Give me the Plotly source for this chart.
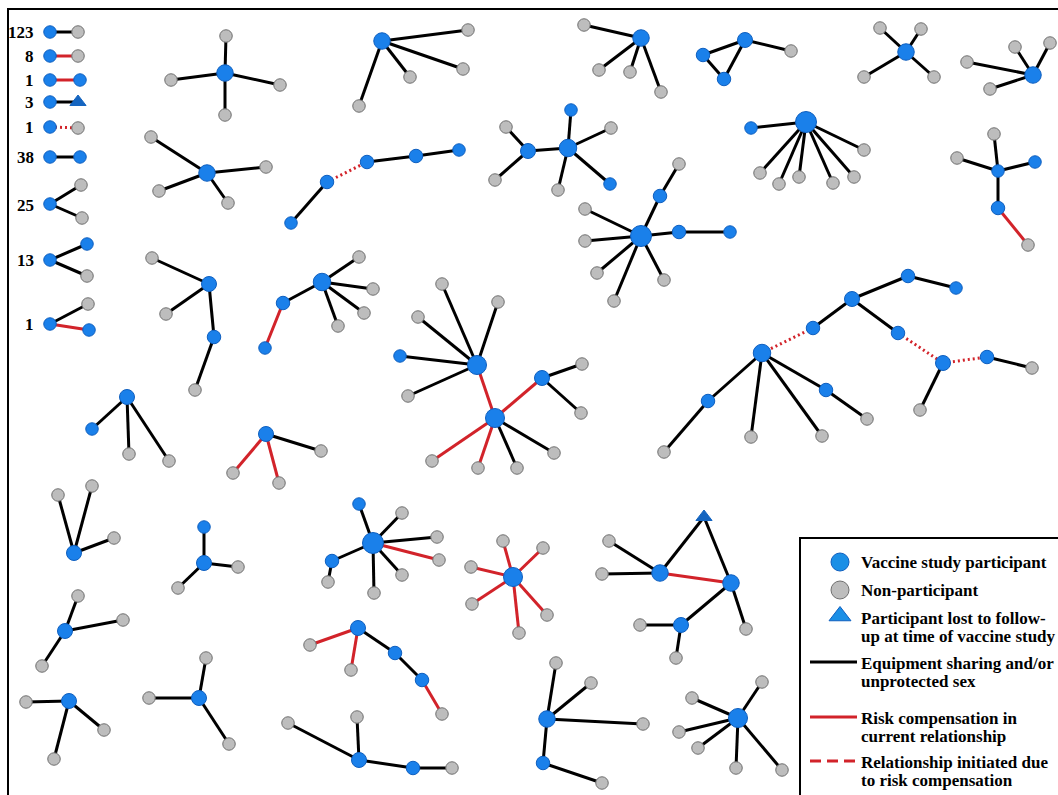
import plotly.graph_objects as go

# ---------------- data ----------------
# left-hand key: counts of small dyads/triads
motif_counts = [123, 8, 1, 3, 1, 38, 25, 13, 1]
motif_label_y = [32, 56, 80, 102, 127, 157, 205, 260, 324]

# node table: name, x, y, kind (P = vaccine study participant, N = non-participant, L = lost to follow-up)
key_nodes = [
    ("k1a", 50, 32, "P"), ("k1b", 78, 32, "N"),
    ("k2a", 50, 56, "P"), ("k2b", 78, 56, "N"),
    ("k3a", 50, 80, "P"), ("k3b", 80, 80, "P"),
    ("k4a", 50, 102, "P"), ("k4b", 78, 102, "L"),
    ("k5a", 50, 127, "P"), ("k5b", 78, 128, "N"),
    ("k6a", 50, 157, "P"), ("k6b", 80, 157, "P"),
    ("k7a", 50, 204, "P"), ("k7b", 81, 185, "N"), ("k7c", 82, 218, "N"),
    ("k8a", 50, 260, "P"), ("k8b", 87, 244, "P"), ("k8c", 87, 276, "N"),
    ("k9a", 50, 324, "P"), ("k9b", 88, 304, "N"), ("k9c", 89, 330, "P"),
]
key_edges = [
    ("k1a", "k1b", "k"), ("k2a", "k2b", "r"), ("k3a", "k3b", "r"), ("k4a", "k4b", "k"),
    ("k5a", "k5b", "d"), ("k6a", "k6b", "k"), ("k7a", "k7b", "k"), ("k7a", "k7c", "k"),
    ("k8a", "k8b", "k"), ("k8a", "k8c", "k"), ("k9a", "k9b", "k"), ("k9a", "k9c", "r"),
]

network_nodes = [
    # A
    ("a0", 225, 73, "P"), ("a1", 226, 36, "N"), ("a2", 171, 80, "N"), ("a3", 280, 85, "N"), ("a4", 225, 115, "N"),
    # B
    ("b0", 382, 41, "P"), ("b1", 468, 30, "N"), ("b2", 463, 69, "N"), ("b3", 410, 77, "N"), ("b4", 359, 106, "N"),
    # C
    ("c0", 207, 173, "P"), ("c1", 151, 137, "N"), ("c2", 266, 167, "N"), ("c3", 159, 191, "N"), ("c4", 228, 203, "N"),
    # D
    ("d0", 291, 223, "P"), ("d1", 327, 182, "P"), ("d2", 367, 162, "P"), ("d3", 416, 156, "P"), ("d4", 459, 150, "P"),
    # E
    ("e0", 641, 38, "P"), ("e1", 584, 25, "N"), ("e2", 599, 70, "N"), ("e3", 630, 72, "N"), ("e4", 661, 92, "N"),
    # F
    ("f0", 745, 40, "P"), ("f1", 703, 55, "P"), ("f2", 724, 79, "P"), ("f3", 791, 51, "N"),
    # G
    ("g0", 906, 52, "P"), ("g1", 880, 28, "N"), ("g2", 921, 29, "N"), ("g3", 864, 77, "N"), ("g4", 934, 77, "N"),
    # H
    ("h0", 1033, 75, "P"), ("h1", 1015, 47, "N"), ("h2", 1050, 43, "N"), ("h3", 967, 62, "N"), ("h4", 990, 89, "N"),
    # I
    ("i0", 568, 148, "P"), ("i1", 571, 110, "P"), ("i2", 611, 128, "N"), ("i3", 610, 184, "P"),
    ("i4", 558, 190, "N"), ("i5", 528, 151, "P"), ("i6", 506, 127, "N"), ("i7", 495, 180, "N"),
    # J
    ("j0", 806, 122, "P"), ("j1", 751, 128, "P"), ("j2", 760, 173, "N"), ("j3", 779, 184, "N"),
    ("j4", 799, 177, "N"), ("j5", 833, 183, "N"), ("j6", 854, 177, "N"), ("j7", 864, 150, "N"),
    # K
    ("k0", 998, 171, "P"), ("kk1", 994, 134, "N"), ("kk2", 957, 158, "N"), ("kk3", 1035, 162, "P"),
    ("kk4", 998, 208, "P"), ("kk5", 1028, 245, "N"),
    # L
    ("l0", 641, 236, "P"), ("l1", 585, 209, "N"), ("l2", 585, 241, "N"), ("l3", 597, 273, "N"),
    ("l4", 614, 301, "N"), ("l5", 664, 280, "N"), ("l6", 660, 196, "P"), ("l7", 679, 164, "N"),
    ("l8", 679, 232, "P"), ("l9", 730, 232, "P"),
    # M
    ("m0", 762, 353, "P"), ("m1", 813, 328, "P"), ("m2", 852, 299, "P"), ("m3", 908, 276, "P"),
    ("m4", 956, 288, "P"), ("m5", 898, 333, "P"), ("m6", 943, 363, "P"), ("m7", 987, 357, "P"),
    ("m8", 1032, 368, "N"), ("m9", 920, 410, "N"), ("m10", 708, 401, "P"), ("m11", 664, 452, "N"),
    ("m12", 751, 437, "N"), ("m13", 822, 436, "N"), ("m14", 826, 390, "P"), ("m15", 867, 419, "N"),
    # N
    ("n0", 209, 284, "P"), ("n1", 152, 258, "N"), ("n2", 166, 314, "N"), ("n3", 214, 337, "P"), ("n4", 195, 390, "N"),
    # O
    ("o0", 322, 282, "P"), ("o1", 359, 257, "N"), ("o2", 373, 289, "N"), ("o3", 364, 313, "N"),
    ("o4", 338, 326, "N"), ("o5", 283, 303, "P"), ("o6", 265, 348, "P"),
    # P
    ("p0", 477, 365, "P"), ("p1", 442, 284, "N"), ("p2", 498, 302, "N"), ("p3", 418, 317, "N"),
    ("p4", 408, 396, "N"), ("p5", 400, 356, "P"), ("p6", 495, 418, "P"), ("p7", 542, 378, "P"),
    ("p8", 582, 364, "N"), ("p9", 581, 413, "N"), ("p10", 432, 461, "N"), ("p11", 478, 468, "N"),
    ("p12", 517, 468, "N"), ("p13", 554, 453, "N"),
    # Q
    ("q0", 266, 434, "P"), ("q1", 233, 473, "N"), ("q2", 279, 483, "N"), ("q3", 321, 451, "N"),
    # R
    ("r0", 127, 397, "P"), ("r1", 92, 429, "P"), ("r2", 129, 454, "N"), ("r3", 169, 461, "N"),
    # S
    ("s0", 74, 553, "P"), ("s1", 58, 495, "N"), ("s2", 92, 486, "N"), ("s3", 114, 538, "N"),
    # T
    ("t0", 204, 563, "P"), ("t1", 204, 527, "P"), ("t2", 238, 567, "N"), ("t3", 178, 588, "N"),
    # U
    ("u0", 373, 543, "P"), ("u1", 359, 504, "P"), ("u2", 402, 513, "N"), ("u3", 437, 537, "N"),
    ("u4", 439, 560, "N"), ("u5", 402, 575, "N"), ("u6", 374, 593, "N"), ("u7", 332, 561, "P"), ("u8", 328, 582, "N"),
    # V
    ("v0", 65, 631, "P"), ("v1", 78, 596, "N"), ("v2", 123, 620, "N"), ("v3", 42, 666, "N"),
    # W
    ("w0", 358, 628, "P"), ("w1", 310, 645, "N"), ("w2", 351, 670, "N"), ("w3", 395, 653, "P"),
    ("w4", 422, 680, "P"), ("w5", 442, 714, "N"),
    # X
    ("x0", 69, 701, "P"), ("x1", 26, 702, "N"), ("x2", 104, 730, "N"), ("x3", 54, 759, "N"),
    # Y
    ("y0", 199, 698, "P"), ("y1", 149, 698, "N"), ("y2", 206, 658, "N"), ("y3", 229, 744, "N"),
    # Z
    ("z0", 359, 760, "P"), ("z1", 288, 723, "N"), ("z2", 357, 717, "N"), ("z3", 413, 768, "P"), ("z4", 452, 768, "N"),
    # AA
    ("aa0", 513, 577, "P"), ("aa1", 503, 541, "N"), ("aa2", 543, 548, "N"), ("aa3", 471, 567, "N"),
    ("aa4", 472, 604, "N"), ("aa5", 547, 615, "N"), ("aa6", 519, 633, "N"),
    # AB
    ("ab0", 704, 517, "L"), ("ab1", 660, 573, "P"), ("ab2", 731, 583, "P"), ("ab3", 609, 541, "N"),
    ("ab4", 602, 574, "N"), ("ab5", 681, 625, "P"), ("ab6", 640, 625, "N"), ("ab7", 676, 658, "N"), ("ab8", 746, 629, "N"),
    # AC
    ("ac0", 547, 719, "P"), ("ac1", 556, 663, "N"), ("ac2", 591, 683, "N"), ("ac3", 643, 724, "N"),
    ("ac4", 543, 763, "P"), ("ac5", 602, 783, "N"),
    # AD
    ("ad0", 738, 718, "P"), ("ad1", 762, 682, "N"), ("ad2", 692, 698, "N"), ("ad3", 679, 732, "N"),
    ("ad4", 698, 748, "N"), ("ad5", 736, 768, "N"), ("ad6", 782, 770, "N"),
]

# edges: (from, to, type) with k = equipment sharing / unprotected sex, r = risk compensation, d = initiated due to risk compensation
network_edges = [
    ("a0", "a1", "k"), ("a0", "a2", "k"), ("a0", "a3", "k"), ("a0", "a4", "k"),
    ("b0", "b1", "k"), ("b0", "b2", "k"), ("b0", "b3", "k"), ("b0", "b4", "k"),
    ("c0", "c1", "k"), ("c0", "c2", "k"), ("c0", "c3", "k"), ("c0", "c4", "k"),
    ("d0", "d1", "k"), ("d1", "d2", "d"), ("d2", "d3", "k"), ("d3", "d4", "k"),
    ("e0", "e1", "k"), ("e0", "e2", "k"), ("e0", "e3", "k"), ("e0", "e4", "k"),
    ("f0", "f1", "k"), ("f1", "f2", "k"), ("f2", "f0", "k"), ("f0", "f3", "k"),
    ("g0", "g1", "k"), ("g0", "g2", "k"), ("g0", "g3", "k"), ("g0", "g4", "k"),
    ("h0", "h1", "k"), ("h0", "h2", "k"), ("h0", "h3", "k"), ("h0", "h4", "k"),
    ("i0", "i1", "k"), ("i0", "i2", "k"), ("i0", "i3", "k"), ("i0", "i4", "k"), ("i0", "i5", "k"),
    ("i5", "i6", "k"), ("i5", "i7", "k"),
    ("j0", "j1", "k"), ("j0", "j2", "k"), ("j0", "j3", "k"), ("j0", "j4", "k"), ("j0", "j5", "k"),
    ("j0", "j6", "k"), ("j0", "j7", "k"),
    ("k0", "kk1", "k"), ("k0", "kk2", "k"), ("k0", "kk3", "k"), ("k0", "kk4", "k"), ("kk4", "kk5", "r"),
    ("l0", "l1", "k"), ("l0", "l2", "k"), ("l0", "l3", "k"), ("l0", "l4", "k"), ("l0", "l5", "k"),
    ("l0", "l6", "k"), ("l6", "l7", "k"), ("l0", "l8", "k"), ("l8", "l9", "k"),
    ("m0", "m1", "d"), ("m1", "m2", "k"), ("m2", "m3", "k"), ("m3", "m4", "k"), ("m2", "m5", "k"),
    ("m5", "m6", "d"), ("m6", "m7", "d"), ("m7", "m8", "k"), ("m6", "m9", "k"), ("m0", "m10", "k"),
    ("m10", "m11", "k"), ("m0", "m12", "k"), ("m0", "m13", "k"), ("m0", "m14", "k"), ("m14", "m15", "k"),
    ("n0", "n1", "k"), ("n0", "n2", "k"), ("n0", "n3", "k"), ("n3", "n4", "k"),
    ("o0", "o1", "k"), ("o0", "o2", "k"), ("o0", "o3", "k"), ("o0", "o4", "k"), ("o0", "o5", "k"), ("o5", "o6", "r"),
    ("p0", "p1", "k"), ("p0", "p2", "k"), ("p0", "p3", "k"), ("p0", "p4", "k"), ("p0", "p5", "k"),
    ("p0", "p6", "r"), ("p6", "p7", "r"), ("p7", "p8", "k"), ("p7", "p9", "k"), ("p6", "p10", "r"),
    ("p6", "p11", "r"), ("p6", "p12", "k"), ("p6", "p13", "k"),
    ("q0", "q1", "r"), ("q0", "q2", "r"), ("q0", "q3", "k"),
    ("r0", "r1", "k"), ("r0", "r2", "k"), ("r0", "r3", "k"),
    ("s0", "s1", "k"), ("s0", "s2", "k"), ("s0", "s3", "k"),
    ("t0", "t1", "k"), ("t0", "t2", "k"), ("t0", "t3", "k"),
    ("u0", "u1", "k"), ("u0", "u2", "k"), ("u0", "u3", "k"), ("u0", "u4", "r"), ("u0", "u5", "k"),
    ("u0", "u6", "k"), ("u0", "u7", "k"), ("u7", "u8", "k"),
    ("v0", "v1", "k"), ("v0", "v2", "k"), ("v0", "v3", "k"),
    ("w0", "w1", "r"), ("w0", "w2", "r"), ("w0", "w3", "k"), ("w3", "w4", "k"), ("w4", "w5", "r"),
    ("x0", "x1", "k"), ("x0", "x2", "k"), ("x0", "x3", "k"),
    ("y0", "y1", "k"), ("y0", "y2", "k"), ("y0", "y3", "k"),
    ("z0", "z1", "k"), ("z0", "z2", "k"), ("z0", "z3", "k"), ("z3", "z4", "k"),
    ("aa0", "aa1", "r"), ("aa0", "aa2", "r"), ("aa0", "aa3", "r"), ("aa0", "aa4", "r"),
    ("aa0", "aa5", "r"), ("aa0", "aa6", "r"),
    ("ab1", "ab0", "k"), ("ab0", "ab2", "k"), ("ab1", "ab2", "r"), ("ab1", "ab3", "k"), ("ab1", "ab4", "k"),
    ("ab2", "ab5", "k"), ("ab5", "ab6", "k"), ("ab5", "ab7", "k"), ("ab2", "ab8", "k"),
    ("ac0", "ac1", "k"), ("ac0", "ac2", "k"), ("ac0", "ac3", "k"), ("ac0", "ac4", "k"), ("ac4", "ac5", "k"),
    ("ad0", "ad1", "k"), ("ad0", "ad2", "k"), ("ad0", "ad3", "k"), ("ad0", "ad4", "k"),
    ("ad0", "ad5", "k"), ("ad0", "ad6", "k"),
]

# legend entries: each entry is a list of text lines
legend_labels = [
    ["Vaccine study participant"],
    ["Non-participant"],
    ["Participant lost to follow-", "up at time of vaccine study"],
    ["Equipment sharing and/or", "unprotected sex"],
    ["Risk compensation in", "current relationship"],
    ["Relationship initiated due", "to risk compensation"],
]

# ---------------- styles ----------------
BLUE = "#1a80ea"
BLUE_EDGE = "#0f5fbf"
GRAY = "#bdbdbd"
GRAY_EDGE = "#6f6f6f"
TRI = "#1565c0"
BLACK = "#000000"
RED = "#d2232a"
SERIF = "Liberation Serif, Times New Roman, serif"

nodes = {n: (x, y, k) for n, x, y, k in key_nodes + network_nodes}
edges = key_edges + network_edges

degree = {n: 0 for n in nodes}
for a, b, _ in edges:
    degree[a] += 1
    degree[b] += 1


def node_size(name):
    kind = nodes[name][2]
    if kind == "N":
        return 12.5
    if kind == "L":
        return 14
    if name.startswith("k") and name[1].isdigit():
        return 12.5
    d = degree[name]
    return {1: 12.5, 2: 13.5, 3: 15, 4: 16.5, 5: 17.5, 6: 19}.get(d, 21)


fig = go.Figure()

edge_styles = {
    "k": dict(color=BLACK, width=3),
    "r": dict(color=RED, width=3),
    "d": dict(color=RED, width=3, dash="2px,3px"),
}
for etype, style in edge_styles.items():
    xs, ys = [], []
    for a, b, t in edges:
        if t != etype:
            continue
        xs += [nodes[a][0], nodes[b][0], None]
        ys += [nodes[a][1], nodes[b][1], None]
    fig.add_trace(go.Scatter(x=xs, y=ys, mode="lines", line=style,
                             hoverinfo="skip", showlegend=False))

for kind, fill, outline, symbol in [("N", GRAY, GRAY_EDGE, "circle"),
                                    ("P", BLUE, BLUE_EDGE, "circle"),
                                    ("L", TRI, TRI, "triangle-up")]:
    names = [n for n in nodes if nodes[n][2] == kind]
    fig.add_trace(go.Scatter(
        x=[nodes[n][0] for n in names], y=[nodes[n][1] for n in names],
        mode="markers",
        marker=dict(size=[node_size(n) for n in names], color=fill, symbol=symbol,
                    opacity=1, line=dict(color=outline, width=1)),
        hovertext=names, hoverinfo="text", showlegend=False, cliponaxis=False))

# count labels of the key
for c, y in zip(motif_counts, motif_label_y):
    fig.add_annotation(x=36, y=y, text=f"<b>{c}</b>", showarrow=False, xanchor="right",
                       yanchor="middle", font=dict(family=SERIF, size=17, color="black"))

# ---------------- right-hand legend box ----------------
lx_marker = 840
leg_y = [562, 590, 618, 663, 718, 762]
fig.add_trace(go.Scatter(x=[lx_marker], y=[leg_y[0]], mode="markers",
                         marker=dict(size=18, color="#1b8fe6", opacity=1,
                                     line=dict(color=BLUE_EDGE, width=1)),
                         hoverinfo="skip", showlegend=False, cliponaxis=False))
fig.add_trace(go.Scatter(x=[lx_marker], y=[leg_y[1]], mode="markers",
                         marker=dict(size=18, color=GRAY, opacity=1,
                                     line=dict(color=GRAY_EDGE, width=1)),
                         hoverinfo="skip", showlegend=False, cliponaxis=False))
fig.add_trace(go.Scatter(x=[lx_marker], y=[leg_y[2] - 2], mode="markers",
                         marker=dict(size=19, color="#1b8fe6", symbol="triangle-up", opacity=1,
                                     line=dict(color=BLUE_EDGE, width=1)),
                         hoverinfo="skip", showlegend=False, cliponaxis=False))
for i, style in enumerate([dict(color=BLACK, width=3), dict(color=RED, width=3),
                           dict(color=RED, width=3, dash="11px,6px")]):
    yy = leg_y[3 + i] - 1
    fig.add_trace(go.Scatter(x=[810, 857], y=[yy, yy], mode="lines", line=style,
                             hoverinfo="skip", showlegend=False))

for i, lines in enumerate(legend_labels):
    for j, line in enumerate(lines):
        fig.add_annotation(x=859, y=leg_y[i] + 18.5 * j, text=f"<b>{line}</b>", showarrow=False,
                           xanchor="left", yanchor="middle", align="left",
                           font=dict(family=SERIF, size=17, color="black"))

# frames (they run off the right and bottom edges, as in the cropped original)
fig.add_shape(type="rect", x0=8, y0=9, x1=1075, y1=810, line=dict(color="black", width=2),
              layer="below")
fig.add_shape(type="rect", x0=800, y0=538, x1=1075, y1=810, line=dict(color="black", width=2),
              fillcolor="white", layer="below")

fig.update_layout(
    width=1058, height=795,
    margin=dict(l=0, r=0, t=0, b=0),
    paper_bgcolor="white", plot_bgcolor="white",
    xaxis=dict(range=[0, 1058], visible=False, fixedrange=True),
    yaxis=dict(range=[795, 0], visible=False, fixedrange=True),
    showlegend=False,
)

# remove the browser's default page margin so the figure fills the window exactly
fig.write_html("out.html",
               config={"displayModeBar": False},
               post_script="document.body.style.margin='0';document.body.style.overflow='hidden';")
